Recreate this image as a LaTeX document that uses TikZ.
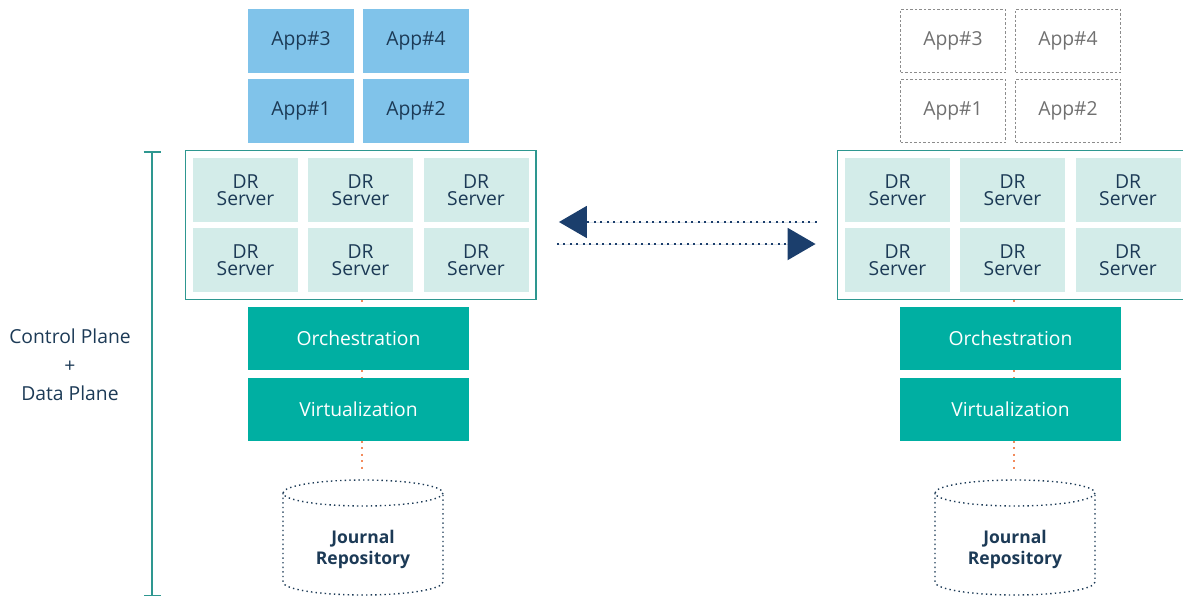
\documentclass[tikz,border=0pt]{standalone}
\usepackage{fontspec}
\setmainfont{Open Sans}
\usetikzlibrary{arrows.meta,calc,fit}

\definecolor{appblue}{HTML}{80C3EA}
\definecolor{cellfill}{HTML}{D3ECE9}
\definecolor{boxteal}{HTML}{2E9790}
\definecolor{layerteal}{HTML}{00AFA2}
\definecolor{navy}{HTML}{1C3A56}
\definecolor{arrownavy}{HTML}{1B3E6C}
\definecolor{linkorange}{HTML}{F28B5C}
\definecolor{ghostgray}{HTML}{8C8C8C}
\definecolor{ghosttext}{HTML}{707070}

\begin{document}
\begin{tikzpicture}[x=1pt,y=-1pt,
  every node/.style={font=\fontsize{19.3}{17}\selectfont,align=center,inner sep=0pt},
  app/.style={fill=appblue,text=navy,minimum width=106pt,minimum height=64pt},
  ghost/.style={draw=ghostgray,dash pattern=on 2.5pt off 2pt,line width=1.1pt,text=ghosttext,minimum width=105pt,minimum height=63pt},
  cell/.style={fill=cellfill,text=navy,minimum width=105pt,minimum height=64pt},
  layer/.style={fill=layerteal,text=white,minimum width=221pt,minimum height=63pt},
  link/.style={draw=linkorange,line width=2.2pt,dash pattern=on 2pt off 4.5pt},
  flow/.style={draw=arrownavy,fill=arrownavy,line width=2pt,dash pattern=on 2pt off 4.5pt},
  cyl/.style={draw=navy,line width=1.4pt,dash pattern=on 1.4pt off 3.2pt}]
\clip (0,0) rectangle (1183,597);

% one site on each side, the right one is the standby copy
\foreach \s/\dx/\apst in {L/0/app,R/652/ghost}{
  \node[\apst] (app3\s) at (301+\dx,41) {App\#3};
  \node[\apst] (app4\s) at (416+\dx,41) {App\#4};
  \node[\apst] (app1\s) at (301+\dx,111) {App\#1};
  \node[\apst] (app2\s) at (416+\dx,111) {App\#2};
  % DR servers, 3 x 2
  \foreach \c/\cx in {1/245.5,2/360.5,3/476}
    \foreach \r/\cy in {1/190,2/260}
      \node[cell] (dr\c\r\s) at (\cx+\dx,\cy) {DR\\Server};
  \node[draw=boxteal,line width=1.5pt,inner sep=7.5pt,fit=(dr11\s)(dr32\s)] (dr\s) {};
  \node[layer] (orch\s) at (358.5+\dx,338.5) {Orchestration};
  \node[layer] (virt\s) at (358.5+\dx,409) {Virtualization};
  % journal cylinder
  \draw[cyl] (283+\dx,493) -- (283+\dx,582) arc (180:0:80 and 13) -- (443+\dx,493);
  \draw[cyl] (363+\dx,493) ellipse (80 and 13);
  \node[font=\fontsize{17.5}{21}\selectfont\bfseries,text=navy] (jr\s) at (363+\dx,549) {Journal\\Repository};
  \coordinate (top\s) at (362+\dx,470);
  \draw[link] (dr\s.south -| top\s) -- (orch\s.north -| top\s);
  \draw[link] (orch\s.south -| top\s) -- (virt\s.north -| top\s);
  \draw[link] (virt\s.south -| top\s) -- (top\s);
}

% replication between the two sites
\draw[flow,-{Triangle[length=28pt,width=32pt]}] ($(drR.west)+(-20,-3)$) -- ($(drL.east)+(22,-3)$);
\draw[flow,-{Triangle[length=28pt,width=32pt]}] ($(drL.east)+(20,19)$) -- ($(drR.west)+(-21,19)$);

% plane bracket
\draw[boxteal,line width=1.5pt,{Bar[width=17pt]}-{Bar[width=17pt]}] (152,151) -- (152,596);
\node[text=navy,font=\fontsize{19.3}{28.5}\selectfont] (plane) at (70,365) {Control Plane\\+\\Data Plane};
\end{tikzpicture}
\end{document}
